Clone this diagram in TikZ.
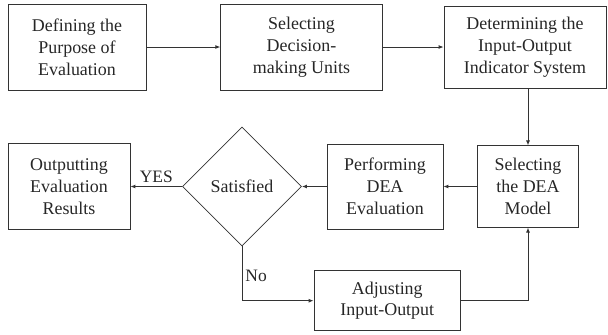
\documentclass[tikz,border=0pt]{standalone}
\usepackage{fontspec}
\setmainfont{Liberation Serif}
\usetikzlibrary{shapes.geometric,arrows.meta}
\definecolor{linegray}{HTML}{333333}
\definecolor{textgray}{HTML}{262626}
\tikzset{
  stepbox/.style={draw=linegray, line width=0.8bp, align=center, inner sep=0pt,
    font=\fontsize{18}{22}\selectfont, text=textgray},
  decision/.style={stepbox, diamond, minimum width=119bp, minimum height=119bp},
  flow/.style={draw=linegray, line width=0.9bp, -{Latex[length=5bp,width=4bp]}},
  flowlabel/.style={font=\fontsize{17.5}{20}\selectfont, text=textgray, inner sep=3bp}
}

\begin{document}
\begin{tikzpicture}[x=1bp,y=-1bp]
\useasboundingbox (0,0) rectangle (608,334);
% top row
\node[stepbox, minimum width=138bp, minimum height=86bp] (def) at (77,47) {Defining the\\Purpose of\\Evaluation};
\node[stepbox, minimum width=161.5bp, minimum height=86bp] (sel) at (301.5,47) {Selecting\\Decision-\\making Units};
\node[stepbox, minimum width=162bp, minimum height=82bp] (det) at (525,47) {Determining the\\Input-Output\\Indicator System};
% middle row
\node[stepbox, minimum width=100.6bp, minimum height=81.3bp] (model) at (528,186.5) {Selecting\\the DEA\\Model};
\node[stepbox, minimum width=116bp, minimum height=85bp] (perf) at (385,186.5) {Performing\\DEA\\Evaluation};
\node[decision] (sat) at (242,186.5) {Satisfied};
\node[stepbox, minimum width=122bp, minimum height=86bp] (out) at (69,186.5) {Outputting\\Evaluation\\Results};
% bottom
\node[stepbox, minimum width=146.7bp, minimum height=60bp] (adj) at (387.3,300.7) {Adjusting\\Input-Output};

\draw[flow] (def) -- (sel);
\draw[flow] (sel) -- (det);
\draw[flow] (model.north |- det.south) -- (model.north);
\draw[flow] (model) -- (perf);
\draw[flow] (perf) -- (sat);
\draw[flow] (sat) -- (out) node[flowlabel, midway, above] {YES};
\draw[flow] (sat.south) |- (adj.west) node[flowlabel, pos=0.27, right] {No};
\draw[flow] (adj.east) -| (model.south);
\end{tikzpicture}
\end{document}
